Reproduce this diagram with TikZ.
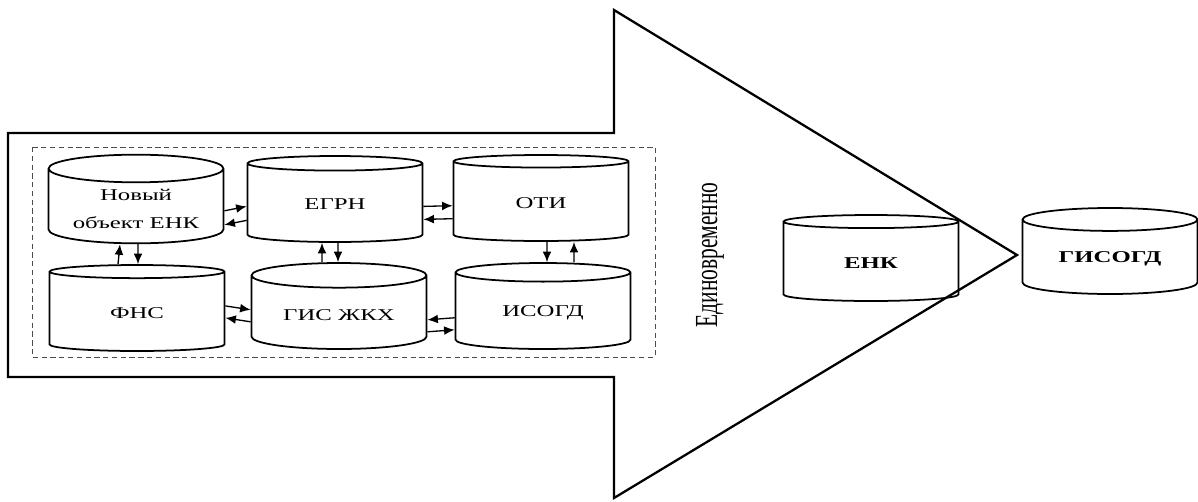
\documentclass[tikz,border=0pt]{standalone}
\usepackage{fontspec}
\usepackage{graphicx}
\setmainfont{Liberation Serif}
\newfontfamily\widefont[FakeStretch=1.5]{Liberation Serif}
\usetikzlibrary{calc,positioning,arrows.meta,shapes.geometric}
\tikzset{
    >={Latex[length=6pt,width=5pt]},
    db/.style={
      cylinder,
      shape border rotate=90,
      aspect=0.2,
      draw=black, line width=1pt,
      minimum width=3.5cm,
      minimum height=1.72cm,
      align=center,
      anchor=shape center,
      font=\widefont\fontsize{9.4}{16}\selectfont},
    dbbold/.style={db, font=\widefont\bfseries\fontsize{9.4}{16}\selectfont},
    link/.style={draw, line width=0.75pt, ->},
    pool/.style={draw=black!70, dash pattern=on 3pt off 2pt, line width=0.5pt},
    bigarrow/.style={draw, line width=1.3pt, line join=miter},
}

\begin{document}
\begin{tikzpicture}[x=0.02cm, y=-0.02cm]
      \useasboundingbox (0,0) rectangle (1198,501);
      % big arrow
      \draw[bigarrow] (8,133) -- (614,133) -- (614,10) -- (1017,255)
            -- (614,498) -- (614,377) -- (8,377) -- cycle;
      \draw[pool] (32,147) rectangle (655,357);
      % sources
      \node[db] (novy)  at (136,199)   {Новый\\объект ЕНК};
      \node[db] (egrn)  at (335,199)   {ЕГРН};
      \node[db] (oti)   at (541,198)   {ОТИ};
      \node[db] (fns)   at (137,308)   {ФНС};
      \node[db] (gis)   at (339,306)   {ГИС ЖКХ};
      \node[db] (isogd) at (543,306)   {ИСОГД};
      % targets
      \node[dbbold] (enk)    at (871,258) {ЕНК};
      \node[dbbold] (gisogd) at (1110,251) {ГИСОГД};
      \node[rotate=90] (once) at (710,255)
            {\scalebox{1}[1.5]{\fontsize{12.2}{14}\selectfont Единовременно}};
      % exchange
      \draw[link] ($(novy.east)+(0,2)$)   -- ($(egrn.west)+(0,2)$);
      \draw[link] ($(egrn.west)+(0,16)$)  -- ($(novy.east)+(0,16)$);
      \draw[link] ($(egrn.east)+(0,2)$)   -- ($(oti.west)+(0,3)$);
      \draw[link] ($(oti.west)+(0,16)$)   -- ($(egrn.east)+(0,15)$);
      \draw[link] ($(fns.east)+(0,-7)$)   -- ($(gis.west)+(0,-5)$);
      \draw[link] ($(gis.west)+(0,7)$)    -- ($(fns.east)+(0,5)$);
      \draw[link] ($(isogd.west)+(0,5)$)  -- ($(gis.east)+(0,5)$);
      \draw[link] ($(gis.east)+(0,17)$)   -- ($(isogd.west)+(0,17)$);
      \draw[link] ($(fns.north)+(-19,0)$) -- ($(novy.south)+(-16,0)$);
      \draw[link] ($(novy.south)+(2,0)$)  -- ($(fns.north)+(1,0)$);
      \draw[link] ($(gis.north)+(-17,0)$) -- ($(egrn.south)+(-13,0)$);
      \draw[link] ($(egrn.south)+(3,0)$)  -- ($(gis.north)+(-1,0)$);
      \draw[link] ($(oti.south)+(6,0)$)   -- ($(isogd.north)+(4,0)$);
      \draw[link] ($(isogd.north)+(31,0)$) -- ($(oti.south)+(33,0)$);
\end{tikzpicture}
\end{document}
